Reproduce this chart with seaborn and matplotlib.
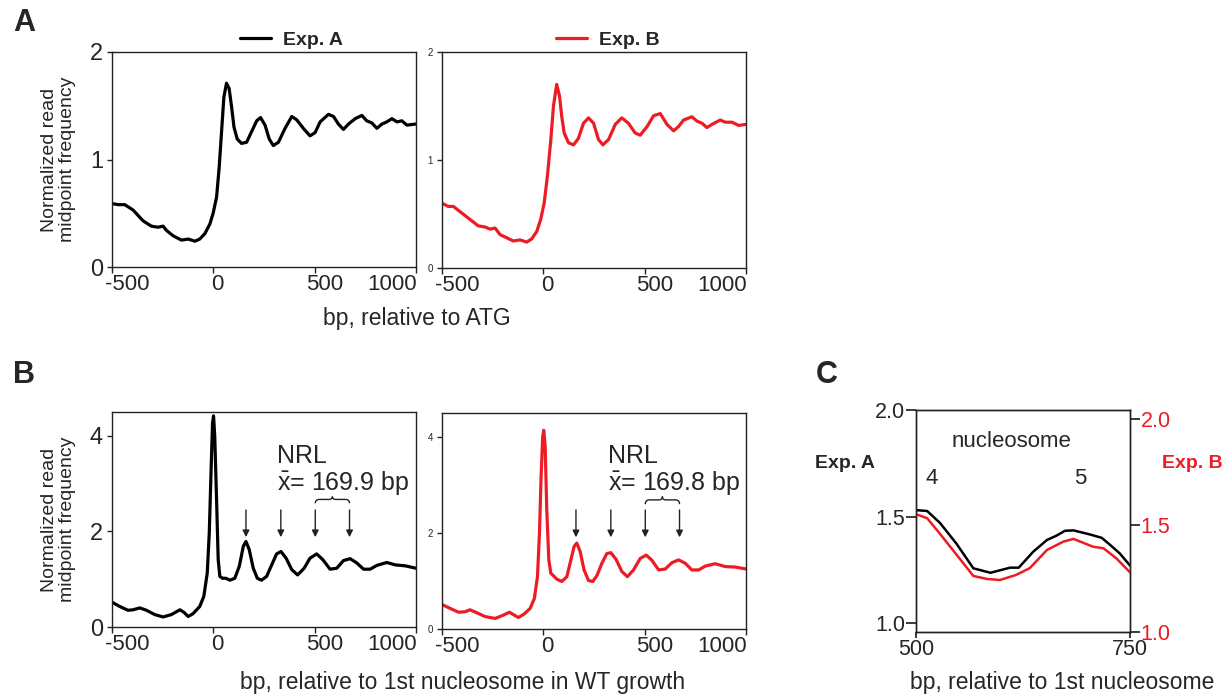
import matplotlib
matplotlib.use("Agg")
import matplotlib.pyplot as plt
from matplotlib.path import Path
from matplotlib.patches import PathPatch
from matplotlib.transforms import ScaledTranslation
import seaborn as sns

# ---------------- data ----------------
# Panel A: profiles around the ATG (bp, normalized midpoint frequency)
atg_bp_a = [-500, -470, -437, -396, -347, -306, -273, -248, -231, -198, -157, -124, -91, -67,
            -42, -17, -1, 16, 29, 41, 52, 65, 78, 90, 102, 118, 139, 164, 189, 214, 233, 255,
            276, 296, 321, 354, 387, 411, 444, 477, 502, 527, 568, 593, 617, 642, 667, 700,
            733, 757, 782, 807, 832, 856, 881, 906, 930, 955, 1000]
atg_val_a = [0.59, 0.58, 0.58, 0.53, 0.43, 0.38, 0.37, 0.38, 0.34, 0.29, 0.25, 0.26, 0.24, 0.26,
             0.31, 0.40, 0.50, 0.65, 0.93, 1.27, 1.58, 1.71, 1.66, 1.49, 1.30, 1.19, 1.15, 1.16,
             1.26, 1.36, 1.39, 1.32, 1.19, 1.13, 1.16, 1.29, 1.40, 1.37, 1.29, 1.22, 1.25, 1.35,
             1.42, 1.40, 1.33, 1.28, 1.33, 1.38, 1.41, 1.36, 1.34, 1.29, 1.33, 1.35, 1.38, 1.35,
             1.36, 1.32, 1.33]

atg_bp_b = [-500, -469, -444, -403, -362, -321, -288, -263, -238, -214, -181, -148, -115, -82,
            -57, -32, -13, 4, 20, 37, 50, 66, 80, 91, 103, 124, 149, 173, 198, 223, 248, 272,
            294, 322, 355, 387, 420, 453, 478, 512, 544, 577, 610, 643, 667, 692, 733, 758,
            783, 807, 832, 873, 898, 931, 964, 1000]
atg_val_b = [0.60, 0.57, 0.57, 0.51, 0.45, 0.39, 0.38, 0.36, 0.37, 0.31, 0.28, 0.25, 0.26, 0.24,
             0.27, 0.34, 0.45, 0.60, 0.85, 1.19, 1.50, 1.70, 1.59, 1.40, 1.25, 1.16, 1.14, 1.20,
             1.34, 1.39, 1.34, 1.19, 1.14, 1.19, 1.33, 1.39, 1.34, 1.25, 1.23, 1.31, 1.41, 1.43,
             1.33, 1.27, 1.31, 1.37, 1.40, 1.36, 1.34, 1.30, 1.33, 1.37, 1.35, 1.35, 1.32, 1.33]

# Panel B: profiles around the 1st nucleosome
nuc_bp_a = [-500, -462, -421, -396, -363, -330, -289, -248, -207, -165, -146, -124, -100, -67,
            -47, -30, -20, -12, -4, 1, 7, 16, 24, 32, 45, 62, 82, 106, 128, 148, 161, 177,
            197, 217, 238, 263, 288, 312, 334, 359, 387, 416, 448, 477, 510, 540, 576, 609,
            642, 675, 708, 741, 774, 807, 856, 898, 947, 1000]
nuc_val_a = [0.52, 0.43, 0.35, 0.36, 0.40, 0.35, 0.26, 0.21, 0.26, 0.36, 0.31, 0.22, 0.28, 0.43,
             0.64, 1.13, 1.97, 3.15, 4.26, 4.42, 3.99, 2.66, 1.41, 1.06, 1.02, 1.02, 0.98, 1.02,
             1.27, 1.69, 1.79, 1.62, 1.23, 1.02, 0.98, 1.06, 1.30, 1.53, 1.58, 1.44, 1.20, 1.09,
             1.23, 1.44, 1.53, 1.41, 1.21, 1.23, 1.39, 1.43, 1.34, 1.21, 1.21, 1.29, 1.35, 1.30,
             1.28, 1.23]

nuc_bp_b = [-500, -460, -419, -386, -362, -329, -288, -238, -197, -167, -144, -123, -95, -65,
            -44, -29, -19, -11, -3, 2, 9, 17, 27, 37, 50, 66, 91, 116, 136, 152, 165, 182,
            201, 223, 244, 264, 289, 313, 333, 359, 387, 415, 445, 478, 508, 536, 569, 602,
            634, 667, 700, 733, 766, 799, 848, 898, 947, 1000]
nuc_val_b = [0.51, 0.43, 0.35, 0.36, 0.40, 0.34, 0.26, 0.22, 0.29, 0.35, 0.29, 0.24, 0.31, 0.43,
             0.64, 1.09, 2.00, 3.18, 4.01, 4.14, 3.81, 2.48, 1.44, 1.16, 1.11, 1.04, 0.99, 1.09,
             1.44, 1.72, 1.79, 1.61, 1.23, 1.01, 0.99, 1.11, 1.37, 1.57, 1.59, 1.45, 1.20, 1.09,
             1.23, 1.47, 1.54, 1.43, 1.23, 1.25, 1.38, 1.44, 1.37, 1.23, 1.23, 1.31, 1.36, 1.30,
             1.29, 1.25]

# NRL annotation: marked peaks and mean repeat lengths
peak_marks = [161, 333, 503, 672]
nrl_a = 169.9
nrl_b = 169.8

# Panel C: zoom between nucleosomes 4 and 5
zoom_bp_a = [500, 513, 528, 547, 567, 587, 610, 620, 637, 653, 664, 674, 684, 703, 717, 727, 738, 750]
zoom_val_a = [1.53, 1.526, 1.47, 1.374, 1.257, 1.236, 1.26, 1.26, 1.335, 1.39, 1.41, 1.433, 1.435,
              1.416, 1.40, 1.366, 1.327, 1.27]
zoom_bp_b = [500, 513, 526, 543, 567, 583, 598, 617, 633, 653, 672, 684, 707, 719, 734, 750]
zoom_val_b = [1.553, 1.534, 1.471, 1.385, 1.263, 1.249, 1.244, 1.268, 1.30, 1.385, 1.424, 1.437,
              1.40, 1.393, 1.346, 1.28]

x_ticks = [-500, 0, 500, 1000]
RED = "#ED1C24"
BLACK = "#000000"
SPINE = "#222222"

# ---------------- style ----------------
sns.set_theme(style="ticks")
plt.rcParams["font.family"] = ["Liberation Sans", "DejaVu Sans"]
plt.rcParams["mathtext.fontset"] = "custom"
plt.rcParams["mathtext.rm"] = "Liberation Sans"
plt.rcParams["mathtext.it"] = "Liberation Sans:italic"
plt.rcParams["mathtext.bf"] = "Liberation Sans:bold"
plt.rcParams["axes.edgecolor"] = SPINE
plt.rcParams["axes.linewidth"] = 1.0

W, H = 1227, 698
fig = plt.figure(figsize=(W / 100, H / 100), dpi=100)
LINE_KW = dict(solid_joinstyle="round", solid_capstyle="round")


def px_axes(x0, y0, x1, y1):
    return fig.add_axes([x0 / W, 1 - y1 / H, (x1 - x0) / W, (y1 - y0) / H])


def place_xlabels(ax, specs):
    """Set alignment and a horizontal pixel nudge for each x tick label."""
    for tick, (ha, dx) in zip(ax.xaxis.get_major_ticks(), specs):
        lab = tick.label1
        lab.set_horizontalalignment(ha)
        lab.set_transform(lab.get_transform() + ScaledTranslation(dx / 100, 0, fig.dpi_scale_trans))


def style_profile(ax, ylim, yticks, ylab_size, ylabel=False):
    ax.set_xlim(-500, 1000)
    ax.set_ylim(*ylim)
    ax.set_xticks(x_ticks)
    ax.set_xticklabels([str(t) for t in x_ticks])
    ax.set_yticks(yticks)
    ax.set_yticklabels([str(t) for t in yticks])
    ax.tick_params(axis="x", labelsize=16, length=4.5, width=1, pad=0.5, direction="out",
                   color=SPINE)
    ax.tick_params(axis="y", labelsize=ylab_size, length=3.5, width=1, pad=3, direction="out",
                   color=SPINE)
    for s in ax.spines.values():
        s.set_visible(True)
    ax.set_xlabel("")
    if ylabel:
        ax.set_ylabel("Normalized read\nmidpoint frequency", fontsize=14, linespacing=1.05)
        ax.yaxis.set_label_coords(-0.12, 0.5)
    else:
        ax.set_ylabel("")
    place_xlabels(ax, [("left", -7), ("center", 4), ("center", 10), ("right", 1)])


def draw_brace(ax, x0, x1, y_end, y_bar, y_tip):
    xm = (x0 + x1) / 2
    w = x1 - x0
    verts = [(x0, y_end), (x0, y_bar), (x0 + 0.12 * w, y_bar),
             (xm - 0.1 * w, y_bar), (xm, y_bar), (xm, y_tip),
             (xm, y_bar), (xm + 0.1 * w, y_bar),
             (x1 - 0.12 * w, y_bar), (x1, y_bar), (x1, y_end)]
    codes = [Path.MOVETO, Path.CURVE3, Path.CURVE3,
             Path.LINETO, Path.CURVE3, Path.CURVE3,
             Path.CURVE3, Path.CURVE3,
             Path.LINETO, Path.CURVE3, Path.CURVE3]
    ax.add_patch(PathPatch(Path(verts, codes), fill=False, lw=1.0, color=SPINE))


def nrl_annot(ax, nrl, x_text, y1, y2, arrow_top, arrow_bot, brace_y):
    ax.text(x_text, y1, "NRL", fontsize=18, va="baseline", ha="left")
    ax.text(x_text, y2, r"$\bar{\mathrm{x}}$= %.1f bp" % nrl, fontsize=18, va="baseline", ha="left")
    for px in peak_marks:
        ax.annotate("", xy=(px, arrow_bot), xytext=(px, arrow_top),
                    arrowprops=dict(arrowstyle="-|>", lw=1.0, color=SPINE,
                                    mutation_scale=10, shrinkA=0, shrinkB=0))
    draw_brace(ax, peak_marks[2], peak_marks[3], *brace_y)


# ---------------- panel A ----------------
axA1 = px_axes(112, 52, 416, 267)
sns.lineplot(x=atg_bp_a, y=atg_val_a, ax=axA1, color=BLACK, lw=2.3, label="Exp. A", **LINE_KW)
style_profile(axA1, (0, 2), [0, 1, 2], 17, ylabel=True)
axA1.legend(loc="lower center", bbox_to_anchor=(0.59, 1.0), frameon=False,
            prop={"weight": "bold", "size": 14}, handlelength=1.6, handletextpad=0.6,
            borderaxespad=0.05, borderpad=0.1)

axA2 = px_axes(442, 52, 746, 268)
sns.lineplot(x=atg_bp_b, y=atg_val_b, ax=axA2, color=RED, lw=2.3, label="Exp. B", **LINE_KW)
style_profile(axA2, (0, 2), [0, 1, 2], 7)
axA2.legend(loc="lower center", bbox_to_anchor=(0.545, 1.0), frameon=False,
            prop={"weight": "bold", "size": 14}, handlelength=1.6, handletextpad=0.6,
            borderaxespad=0.05, borderpad=0.1)

fig.text(417 / W, 1 - 318 / H, "bp, relative to ATG", fontsize=16.5, ha="center", va="center")

# ---------------- panel B ----------------
axB1 = px_axes(112, 412, 416, 627)
sns.lineplot(x=nuc_bp_a, y=nuc_val_a, ax=axB1, color=BLACK, lw=2.3, **LINE_KW)
style_profile(axB1, (0, 4.5), [0, 2, 4], 17, ylabel=True)
nrl_annot(axB1, nrl_a, 312, 3.43, 2.87, 2.45, 1.88, (2.59, 2.67, 2.73))

axB2 = px_axes(442, 413, 746, 629)
sns.lineplot(x=nuc_bp_b, y=nuc_val_b, ax=axB2, color=RED, lw=2.3, **LINE_KW)
style_profile(axB2, (0, 4.5), [0, 2, 4], 7)
nrl_annot(axB2, nrl_b, 320, 3.46, 2.90, 2.48, 1.91, (2.60, 2.69, 2.76))

fig.text(463 / W, 1 - 683 / H, "bp, relative to 1st nucleosome in WT growth",
         fontsize=16.5, ha="center", va="center")

# ---------------- panel C ----------------
axC = px_axes(916, 410, 1130, 632)
sns.lineplot(x=zoom_bp_a, y=zoom_val_a, ax=axC, color=BLACK, lw=1.8, **LINE_KW)
axC.set_xlim(500, 750)
axC.set_ylim(0.958, 2.0)
axC.set_xticks([500, 750])
axC.set_xticklabels(["500", "750"])
axC.set_yticks([1.0, 1.5, 2.0])
axC.set_yticklabels(["1.0", "1.5", "2.0"])
axC.tick_params(axis="x", labelsize=15.5, length=4, pad=1, color=SPINE)
axC.tick_params(axis="y", labelsize=15.5, length=7.5, pad=0.3, color=SPINE)
axC.set_xlabel("")
axC.set_ylabel("")

axC2 = axC.twinx()
sns.lineplot(x=zoom_bp_b, y=zoom_val_b, ax=axC2, color=RED, lw=1.8, **LINE_KW)
axC2.set_ylim(1.0, 2.042)
axC2.set_yticks([1.0, 1.5, 2.0])
axC2.set_yticklabels(["1.0", "1.5", "2.0"])
axC2.tick_params(axis="y", labelsize=15.5, length=7.5, pad=0.3, color=SPINE, labelcolor=RED)
axC2.set_ylabel("")

axC.text(612, 1.85, "nucleosome", fontsize=16, ha="center", va="center")
axC.text(518, 1.68, "4", fontsize=16, ha="center", va="center")
axC.text(692, 1.68, "5", fontsize=16, ha="center", va="center")
fig.text(845 / W, 1 - 463 / H, "Exp. A", fontsize=14, weight="bold", ha="center", va="center")
fig.text(1192 / W, 1 - 463 / H, "Exp. B", fontsize=14, weight="bold", color=RED,
         ha="center", va="center")
fig.text(1062 / W, 1 - 683 / H, "bp, relative to 1st nucleosome", fontsize=16.5,
         ha="center", va="center")

# ---------------- panel letters ----------------
for letter, (px, py) in {"A": (24, 23), "B": (24, 375), "C": (827, 375)}.items():
    fig.text(px / W, 1 - py / H, letter, fontsize=22, weight="bold", ha="center", va="center")

fig.savefig("out.png", dpi=100)
